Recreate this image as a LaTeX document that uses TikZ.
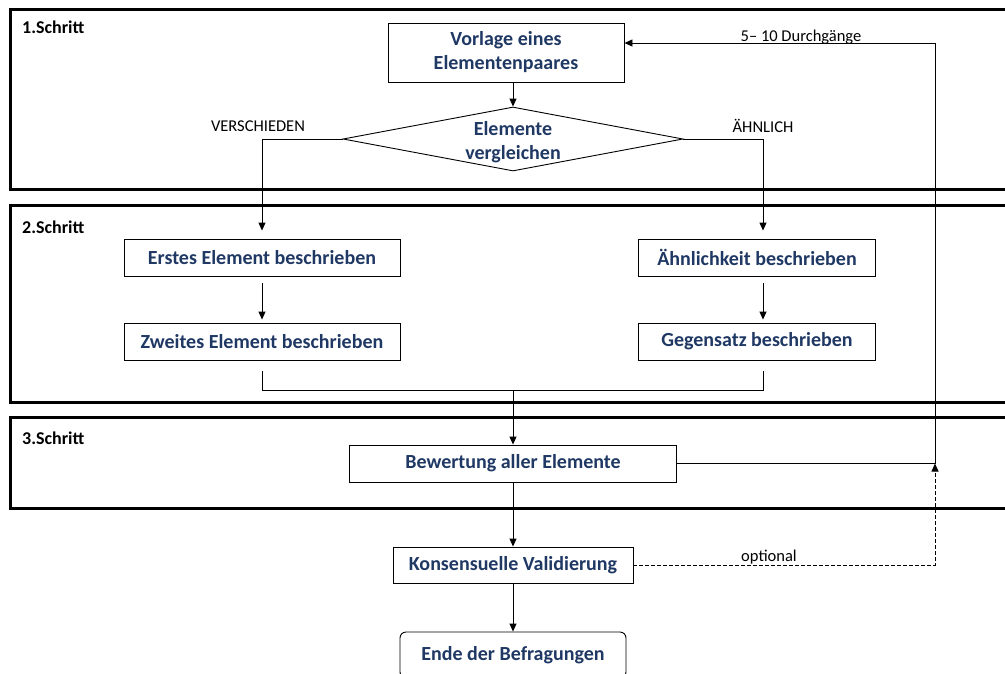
\documentclass[tikz,border=0pt]{standalone}
\usepackage{fontspec}
\setmainfont{Carlito}
\usetikzlibrary{arrows.meta,shapes.geometric,calc}
\definecolor{navy}{RGB}{31,56,100}
\tikzset{
  stage/.style={draw=black, line width=3pt},
  stagelabel/.style={anchor=west, font=\fontsize{18}{20}\selectfont\bfseries, inner sep=0pt},
  procbox/.style={draw=black, line width=0.9pt, fill=white, text=navy, font=\fontsize{20}{24}\selectfont\bfseries, align=center, inner sep=0pt},
  lbl/.style={font=\fontsize{16.5}{18}\selectfont, inner sep=0pt},
  conn/.style={line width=0.9pt, draw=black},
  arr/.style={conn, -{Triangle[length=8pt,width=7pt]}},
  dashline/.style={dash pattern=on 4pt off 2pt},
}
\begin{document}
\begin{tikzpicture}[x=1pt,y=-1pt]
\useasboundingbox (0,0) rectangle (1005,673);
\fill[white] (0,0) rectangle (1005,673);
% stages
\draw[stage] (10,9) rectangle (1015,189);
\draw[stage] (10,205) rectangle (1015,402);
\draw[stage] (10,417) rectangle (1015,508);
\node[stagelabel] (s1) at (22,27) {1.Schritt};
\node[stagelabel] (s2) at (22,227) {2.Schritt};
\node[stagelabel] (s3) at (22,438) {3.Schritt};
% nodes
\node[procbox, minimum width=236pt, minimum height=59pt] (vorl) at (506,52.5) {Vorlage eines\\Elementenpaares};
\node[procbox, diamond, minimum width=340pt, minimum height=64pt, aspect=5.3] (dia) at (513,139) {\raisebox{-9pt}[0pt][0pt]{\makebox[0pt]{\begin{tabular}{@{}c@{}}Elemente\\vergleichen\end{tabular}}}};
\node[procbox, minimum width=276pt, minimum height=37pt] (erst) at (262,257.5) {Erstes Element beschrieben};
\node[procbox, minimum width=276pt, minimum height=37pt] (zweit) at (262,341.5) {Zweites Element beschrieben};
\node[procbox, minimum width=237pt, minimum height=37pt] (ahn) at (757,257.5) {Ähnlichkeit beschrieben};
\node[procbox, minimum width=237pt, minimum height=37pt] (geg) at (757,341.5) {Gegensatz beschrieben};
\node[procbox, minimum width=327pt, minimum height=37pt] (bew) at (513,463.5) {Bewertung aller Elemente};
\node[procbox, minimum width=240pt, minimum height=36pt] (kons) at (513,565) {Konsensuelle Validierung};
\node[procbox, rounded corners=6pt, minimum width=226pt, minimum height=46pt] (ende) at (513,655) {Ende der Befragungen};
% labels
\node[lbl] (verschieden) at (258,126) {VERSCHIEDEN};
\node[lbl] (aehnlich) at (763,126) {ÄHNLICH};
\node[lbl] (durch) at (801,37) {5– 10 Durchgänge};
\node[lbl] (opt) at (769,557) {optional};
% coordinates
\coordinate (l) at (262,139);
\coordinate (r) at (763,139);
\coordinate (m) at (513,390);
\coordinate (j) at (935,463.5);
\coordinate (top) at (935,43);
% connectors
\draw[arr] (vorl.south -| dia.north) -- (dia.north);
\draw[arr, shorten >=8pt] (dia.west) -- (l) -- (erst.north);
\draw[arr, shorten >=8pt] (dia.east) -- (r) -- (r |- ahn.north);
\draw[arr, shorten <=7pt, shorten >=3pt] (erst.south) -- (zweit.north);
\draw[arr, shorten <=7pt, shorten >=3pt] (r |- ahn.south) -- (r |- geg.north);
\draw[conn, shorten <=11pt] (zweit.south) |- (m);
\draw[conn, shorten <=11pt] (r |- geg.south) |- (m);
\draw[arr] (m) -- (bew.north);
\draw[conn] (bew.east) -- (j);
\draw[arr] (j) -- (top) -- (top -| vorl.east);
\draw[arr] (bew.south) -- (kons.north);
\draw[arr] (kons.south) -- (ende.north);
\draw[arr, dashline] (kons.east) -| (j);
\end{tikzpicture}
\end{document}
